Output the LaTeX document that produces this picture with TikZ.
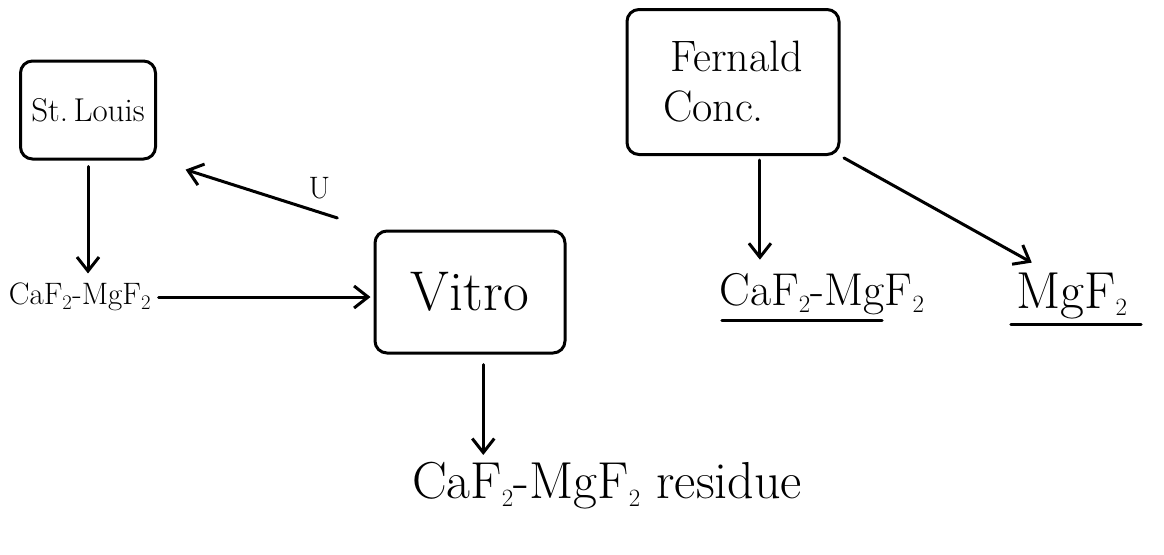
\documentclass[tikz,border=0pt]{standalone}
\usetikzlibrary{arrows.meta,calc}
\begin{document}
\begin{tikzpicture}[x=1pt,y=-1pt,
  ink/.style={line width=3pt,line cap=round,line join=round},
  site/.style={ink,draw,rounded corners=12pt,inner sep=0pt},
  arr/.style={ink,-{Straight Barb[length=14pt,width=22pt,line width=3pt]}},
  big/.style={font=\fontsize{46}{50}\selectfont},
  mid/.style={font=\fontsize{31}{36}\selectfont}]
\useasboundingbox (0,0) rectangle (1164,554);

% plant boxes
\node[site,minimum width=135pt,minimum height=98pt,font=\fontsize{33}{38}\selectfont] (stl) at (88,110) {St.\,Louis};
\node[site,minimum width=190pt,minimum height=122pt,font=\fontsize{56}{60}\selectfont] (vitro) at (470,292) {Vitro};
\node[site,minimum width=212pt,minimum height=145pt,align=left,font=\fontsize{44}{50}\selectfont] (fer) at (733,82) {\,Fernald\\Conc.};

% materials
\node[mid] (cfl) at (80,297) {CaF$_2$-MgF$_2$};
\node[font=\fontsize{52}{56}\selectfont] (res) at (607,486) {CaF$_2$-MgF$_2$ residue};
\node[big] (cfr) at (822,294) {CaF$_2$-MgF$_2$};
\node[font=\fontsize{52}{56}\selectfont] (mgf) at (1072,296) {MgF$_2$};

% underlines
\draw[ink] ([xshift=6pt,yshift=-2pt]cfr.south west) -- ([xshift=-46pt,yshift=-2pt]cfr.south east);
\draw[ink] ([xshift=-2pt,yshift=-2pt]mgf.south west) -- ([xshift=10pt,yshift=-2pt]mgf.south east);

% flows
\draw[arr,shorten <=6pt,shorten >=6pt] (stl.south) -- (stl.south |- cfl.north);
\draw[arr,shorten <=4pt,shorten >=3pt] (cfl.east) -- (cfl.east -| vitro.west);
\draw[arr,shorten <=38pt,shorten >=30pt] (vitro.north west) -- node[pos=0.25,above=8pt,mid] {U} (stl.south east);
\draw[arr,shorten <=10pt,shorten >=4pt] (vitro.-78) -- (vitro.-78 |- res.north);
\draw[arr,shorten <=4pt,shorten >=10pt] (fer.-70) -- (fer.-70 |- cfr.north);
\draw[arr,shorten <=4pt,shorten >=14pt] (fer.south east) -- ([xshift=-28pt]mgf.north);
\end{tikzpicture}
\end{document}
